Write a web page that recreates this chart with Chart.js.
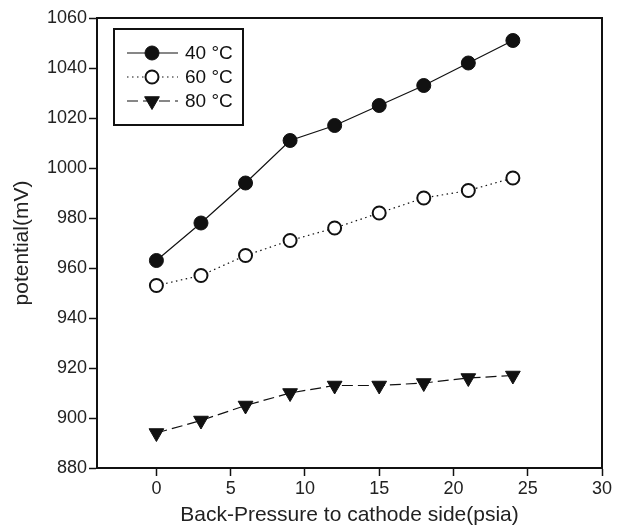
<!DOCTYPE html>
<html>
<head>
<meta charset="utf-8">
<script src="https://cdn.jsdelivr.net/npm/chart.js@4.4.0/dist/chart.umd.min.js"></script>
<style>
    html, body { margin: 0; padding: 0; background: #fff; }
    #wrap { width: 618px; height: 532px; }
</style>
</head>
<body>
<div id="wrap"><canvas id="chart" width="618" height="532"></canvas></div>
<script>
const pressure = [0, 3, 6, 9, 12, 15, 18, 21, 24];
const temp40 = [963, 978, 994, 1011, 1017, 1025, 1033, 1042, 1051];
const temp60 = [953, 957, 965, 971, 976, 982, 988, 991, 996];
const temp80 = [894, 899, 905, 910, 913, 913, 914, 916, 917];
const seriesLabels = ['40 \u00B0C', '60 \u00B0C', '80 \u00B0C'];
const xTicks = [0, 5, 10, 15, 20, 25, 30];
const yTicks = [880, 900, 920, 940, 960, 980, 1000, 1020, 1040, 1060];

const FONT = "'Liberation Sans', Arial, sans-serif";
const INK = '#111';

function toPoints(values) {
    return values.map((v, i) => ({ x: pressure[i], y: v }));
}

// frame on top/right and the boxed legend
const framePlugin = {
    id: 'frameLegend',
    afterDraw(chart) {
        const ctx = chart.ctx;
        const a = chart.chartArea;
        ctx.save();
        ctx.strokeStyle = INK;
        ctx.lineWidth = 2;
        ctx.strokeRect(a.left, a.top, a.right - a.left, a.bottom - a.top);

        // legend box
        const bx = a.left + 17, by = a.top + 11, bw = 129, bh = 96;
        ctx.strokeRect(bx, by, bw, bh);
        ctx.font = '19px ' + FONT;
        ctx.textBaseline = 'middle';
        chart.data.datasets.forEach((ds, i) => {
            const y = by + 24 + i * 24;
            ctx.save();
            ctx.strokeStyle = INK;
            ctx.lineWidth = ds.borderWidth;
            ctx.setLineDash(ds.borderDash || []);
            ctx.beginPath();
            ctx.moveTo(bx + 13, y);
            ctx.lineTo(bx + 64, y);
            ctx.stroke();
            ctx.setLineDash([]);
            ctx.fillStyle = ds.pointBackgroundColor;
            ctx.strokeStyle = ds.pointBorderColor;
            ctx.lineWidth = ds.pointBorderWidth;
            Chart.helpers.drawPoint(ctx, {
                pointStyle: ds.pointStyle,
                radius: ds.pointRadius,
                rotation: ds.pointRotation || 0,
                borderWidth: ds.pointBorderWidth
            }, bx + 38, y);
            ctx.restore();
            ctx.fillStyle = INK;
            ctx.fillText(ds.label, bx + 71, y + 1);
        });
        ctx.restore();
    }
};

const ctx = document.getElementById('chart').getContext('2d');
new Chart(ctx, {
    type: 'scatter',
    data: {
        datasets: [
            {
                label: seriesLabels[0],
                data: toPoints(temp40),
                showLine: true,
                borderColor: INK,
                borderWidth: 1.2,
                pointStyle: 'circle',
                pointRadius: 7,
                pointBackgroundColor: INK,
                pointBorderColor: INK,
                pointBorderWidth: 1
            },
            {
                label: seriesLabels[1],
                data: toPoints(temp60),
                showLine: true,
                borderColor: INK,
                borderWidth: 1.2,
                borderDash: [1.5, 3.5],
                pointStyle: 'circle',
                pointRadius: 6.5,
                pointBackgroundColor: '#fff',
                pointBorderColor: INK,
                pointBorderWidth: 2
            },
            {
                label: seriesLabels[2],
                data: toPoints(temp80),
                showLine: true,
                borderColor: INK,
                borderWidth: 1.2,
                borderDash: [11, 5],
                pointStyle: 'triangle',
                pointRotation: 180,
                pointRadius: 8.5,
                pointBackgroundColor: INK,
                pointBorderColor: INK,
                pointBorderWidth: 1
            }
        ]
    },
    options: {
        responsive: false,
        animation: false,
        events: [],
        layout: { padding: { top: 18, right: 16, left: 6, bottom: 0 } },
        plugins: {
            legend: { display: false },
            tooltip: { enabled: false }
        },
        scales: {
            x: {
                type: 'linear',
                min: -4,
                max: 30,
                afterBuildTicks: (scale) => { scale.ticks = xTicks.map(v => ({ value: v })); },
                afterFit: (scale) => { scale.height = 64; },
                grid: { drawOnChartArea: false, tickLength: 8, tickWidth: 1.5, tickColor: INK },
                border: { color: INK, width: 2 },
                ticks: { color: '#222', font: { family: FONT, size: 18 }, padding: 2, maxRotation: 0,
                    callback: (v) => String(v) },
                title: { display: true, text: 'Back-Pressure to cathode side(psia)', color: '#222', font: { family: FONT, size: 21 }, padding: { top: 2 } }
            },
            y: {
                type: 'linear',
                min: 880,
                max: 1060,
                afterBuildTicks: (scale) => { scale.ticks = yTicks.map(v => ({ value: v })); },
                afterFit: (scale) => { scale.width = 91; },
                grid: { drawOnChartArea: false, tickLength: 8, tickWidth: 1.5, tickColor: INK },
                border: { color: INK, width: 2 },
                ticks: { color: '#222', font: { family: FONT, size: 18 }, padding: 2,
                    callback: (v) => String(v) },
                title: { display: true, text: 'potential(mV)', color: '#222', font: { family: FONT, size: 21 }, padding: { bottom: 0 } }
            }
        }
    },
    plugins: [framePlugin]
});
</script>
</body>
</html>
